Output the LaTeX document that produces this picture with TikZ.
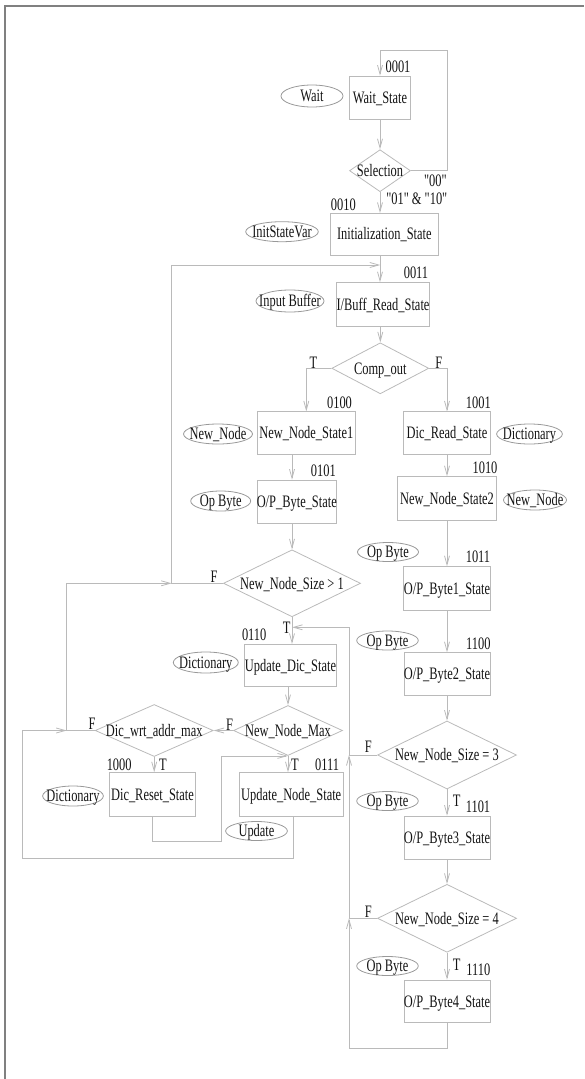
\documentclass[tikz,border=0pt]{standalone}
\usepackage{fontspec}
\setmainfont{Liberation Serif}[FakeStretch=0.71, Ligatures=TeXOff]
\usetikzlibrary{shapes.geometric,arrows.meta}

\begin{document}
\begin{tikzpicture}[x=1pt, y=-1pt, >={Straight Barb[length=9pt,width=5pt]},
    font=\fontsize{17.5}{20}\selectfont,
    flat/.style={inner sep=0pt, text height=11.5pt, text depth=0pt, text=black!92,
      execute at begin node={\hbox to 0pt\bgroup\hss},
      execute at end node={\hss\egroup}},
    state/.style={flat, rectangle, draw=lineC, line width=0.8pt},
    decision/.style={flat, diamond, draw=lineC, line width=0.8pt},
    var/.style={flat, ellipse, draw=varC, line width=0.8pt},
    flow/.style={->, draw=lineC, line width=0.8pt}]

      \colorlet{lineC}{black!27}   % boxes and connectors
      \colorlet{varC}{black!40}    % variable ellipses
      \colorlet{frameC}{black!50}  % page edge

  \useasboundingbox (0,0) rectangle (584,1079);

  % page edge
  \draw[frameC, line width=2pt] (5,1079) -- (5,6) -- (584,6);

  % main column
  \node[state, minimum width=61pt, minimum height=43pt] (wait) at (380,97.5) {Wait\_State};
  \node[decision, minimum width=61pt, minimum height=42pt] (sel) at (380,170.7) {Selection};
  \node[state, minimum width=108pt, minimum height=41.7pt] (init) at (384.3,234.2) {Initialization\_State};
  \node[state, minimum width=92.6pt, minimum height=43.3pt] (ibuf) at (383,304.3) {I/Buff\_Read\_State};
  \node[decision, minimum width=97pt, minimum height=51pt] (comp) at (380.3,368.3) {Comp\_out};

  % T branch
  \node[state, minimum width=98.7pt, minimum height=42.3pt] (nns1) at (306.3,433) {New\_Node\_State1};
  \node[state, minimum width=79.7pt, minimum height=43.3pt] (opb) at (296.8,501.7) {O/P\_Byte\_State};
  \node[decision, minimum width=137pt, minimum height=67pt] (size1) at (292,583.3) {New\_Node\_Size > 1};
  \node[state, minimum width=92.3pt, minimum height=42.3pt] (upd) at (290.5,665.5) {Update\_Dic\_State};
  \node[decision, minimum width=109pt, minimum height=50pt] (nmax) at (288,730.5) {New\_Node\_Max};
  \node[decision, minimum width=118pt, minimum height=52pt] (dwa) at (154.2,730.5) {Dic\_wrt\_addr\_max};
  \node[state, minimum width=86.3pt, minimum height=43.3pt] (dreset) at (152.5,794.3) {Dic\_Reset\_State};
  \node[state, minimum width=104.3pt, minimum height=43.3pt] (unode) at (291.2,794.3) {Update\_Node\_State};

  % F branch
  \node[state, minimum width=86.7pt, minimum height=42.3pt] (dread) at (447,433) {Dic\_Read\_State};
  \node[state, minimum width=98.3pt, minimum height=43.3pt] (nns2) at (447,498.3) {New\_Node\_State2};
  \node[state, minimum width=86.3pt, minimum height=43.3pt] (opb1) at (447,588.3) {O/P\_Byte1\_State};
  \node[state, minimum width=86pt, minimum height=43pt] (opb2) at (447,674.2) {O/P\_Byte2\_State};
  \node[decision, minimum width=139pt, minimum height=68pt] (size3) at (447,755) {New\_Node\_Size = 3};
  \node[state, minimum width=86pt, minimum height=43.3pt] (opb3) at (447,837.7) {O/P\_Byte3\_State};
  \node[decision, minimum width=139pt, minimum height=68pt] (size4) at (447,918.3) {New\_Node\_Size = 4};
  \node[state, minimum width=86pt, minimum height=42.7pt] (opb4) at (447,1001.3) {O/P\_Byte4\_State};

  % variables
  \node[var, minimum width=62pt, minimum height=22pt] (waitV) at (312,96) {Wait};
  \node[var, minimum width=72.6pt, minimum height=20pt] (initV) at (282,231.7) {InitStateVar};
  \node[var, minimum width=68pt, minimum height=22pt] (ibufV) at (290,301) {Input Buffer};
  \node[var, minimum width=69pt, minimum height=20pt] (nns1V) at (218,434) {New\_Node};
  \node[var, minimum width=65.7pt, minimum height=20pt] (dreadV) at (529.5,434) {Dictionary};
  \node[var, minimum width=60pt, minimum height=20pt] (opbV) at (220.7,501) {Op Byte};
  \node[var, minimum width=63pt, minimum height=20pt] (nns2V) at (535,500) {New\_Node};
  \node[var, minimum width=61pt, minimum height=19pt] (opb1V) at (388,552) {Op Byte};
  \node[var, minimum width=65pt, minimum height=21pt] (updV) at (205.8,662.5) {Dictionary};
  \node[var, minimum width=60.7pt, minimum height=20pt] (dresetV) at (73,796) {Dictionary};
  \node[var, minimum width=61.7pt, minimum height=19pt] (unodeV) at (256.5,831) {Update};
  \foreach \n/\y in {opb2V/640.5, opb3V/801, opb4V/966}
    \node[var, minimum width=61.6pt, minimum height=19pt] (\n) at (387.5,\y) {Op Byte};

  % state codes
  \node[flat] (c0001) at (398,67) {0001};
  \node[flat] (c0010) at (343.3,205) {0010};
  \node[flat] (c0011) at (416,272.7) {0011};
  \node[flat] (c0100) at (339.5,402.7) {0100};
  \node[flat] (c1001) at (478.3,402.7) {1001};
  \node[flat] (c0101) at (323.3,470.7) {0101};
  \node[flat] (c1010) at (485,467.3) {1010};
  \node[flat] (c1011) at (478,556.7) {1011};
  \node[flat] (c0110) at (254.2,635) {0110};
  \node[flat] (c1100) at (478.3,643.3) {1100};
  \node[flat] (c1000) at (119.2,764.3) {1000};
  \node[flat] (c0111) at (327,764.3) {0111};
  \node[flat] (c1101) at (478,806.7) {1101};
  \node[flat] (c1110) at (478.3,970) {1110};

  % branch labels
  \node[flat] (sel00) at (435.3,180.5) {"00"};
  \node[flat] (sel01) at (416.8,198.5) {"01" \& "10"};
  \node[flat] (compT) at (313.3,362.7) {T};
  \node[flat] (compF) at (438.7,362.7) {F};
  \node[flat] (size1F) at (214,576.7) {F};
  \node[flat] (size1T) at (286.7,627.3) {T};
  \node[flat] (dwaF) at (92.2,723.3) {F};
  \node[flat] (nmaxF) at (229.7,724.7) {F};
  \node[flat] (dwaT) at (163,765) {T};
  \node[flat] (nmaxT) at (295,765) {T};
  \node[flat] (size3F) at (368.3,747) {F};
  \node[flat] (size3T) at (456.7,801) {T};
  \node[flat] (size4F) at (368.3,911.7) {F};
  \node[flat] (size4T) at (456.7,965) {T};

  % bends of the loops
  \coordinate (top) at (447.7,50);
  \coordinate (lt) at (171.7,265);
  \coordinate (lm) at (171.7,583.3);
  \coordinate (lj) at (66.7,730.5);
  \coordinate (lb) at (22,858.3);
  \coordinate (jog) at (221,841.7);
  \coordinate (rt) at (349,627.3);
  \coordinate (rb) at (349,1048.3);

  % connectors
  \draw[flow] (sel.east) -| (top) -| (wait.north);
  \draw[flow] (wait.south) -- (sel.north);
  \draw[flow] (sel.south) -- (sel.south |- init.north);
  \draw[flow] (sel.south |- init.south) -- (sel.south |- ibuf.north);
  \draw[flow] (comp.north |- ibuf.south) -- (comp.north);
  \draw[flow] (comp.west) -| (nns1.north);
  \draw[flow] (comp.east) -| (dread.north);
  \draw[flow] (size1.north |- nns1.south) -- (size1.north |- opb.north);
  \draw[flow] (size1.north |- opb.south) -- (size1.north);
  \draw[flow] (size1.south) -- (size1.south |- upd.north);
  \draw[flow] (nmax.north |- upd.south) -- (nmax.north);
  \draw[flow] (nmax.west) -- (dwa.east);
  \draw[flow] (nmax.south) -- (nmax.south |- unode.north);
  \draw[flow] (dwa.south) -- (dwa.south |- dreset.north);
  \draw[flow] (dread.south) -- (nns2.north);
  \draw[flow] (nns2.south) -- (opb1.north);
  \draw[flow] (opb1.south) -- (opb2.north);
  \draw[flow] (opb2.south) -- (size3.north);
  \draw[flow] (size3.south) -- (opb3.north);
  \draw[flow] (opb3.south) -- (size4.north);
  \draw[flow] (size4.south) -- (opb4.north);

  % loops back
  \draw[flow] (size1.west) -- (lm) -- (lt) -- (lt -| comp.north);
  \draw[flow] (dwa.west) -- (lj) |- (lm);
  \draw[flow] ([xshift=2pt]unode.south) |- (lb) |- (lj);
  \draw[flow] (dreset.south) |- (jog) |- (nmax.south);
  \draw[flow] (size3.west) -| (rt) -- (rt -| size1.south);
  \draw[flow] (size4.west) -- (rb |- size4.west) -- (rb |- size3.west);
  \draw[flow] (opb4.south) |- (rb) -- (rb |- size4.west);

\end{tikzpicture}
\end{document}
